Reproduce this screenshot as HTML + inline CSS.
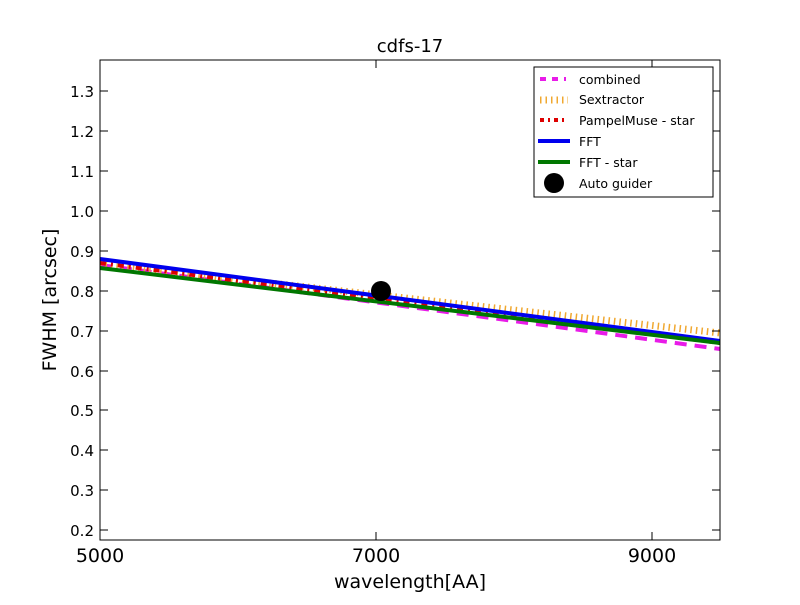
<!DOCTYPE html>
<html><head><style>body{margin:0;background:#fff}svg text{font-family:"DejaVu Sans","Liberation Sans",sans-serif}</style></head><body>
<svg width="800" height="600" xmlns="http://www.w3.org/2000/svg">
<rect width="800" height="600" fill="#fff"/>
<text x="410" y="52" font-size="18" text-anchor="middle">cdfs-17</text>
<g stroke-linecap="butt" fill="none">
<line x1="100" y1="265" x2="720" y2="349" stroke="#e81be8" stroke-width="4" stroke-dasharray="12,8"/>
<line x1="100" y1="264" x2="720" y2="333" stroke="#f0a830" stroke-width="7" stroke-dasharray="1.5,4"/>
<line x1="100" y1="263" x2="720" y2="343" stroke="#dd0000" stroke-width="4" stroke-dasharray="6,5,2,5"/>
<line x1="100" y1="259" x2="720" y2="341" stroke="#0000ee" stroke-width="4"/>
<line x1="100" y1="268" x2="720" y2="343" stroke="#007700" stroke-width="4"/>
</g>
<circle cx="381" cy="291" r="10" fill="#000"/>
<rect x="100" y="60" width="620" height="480" fill="none" stroke="#000" stroke-width="1"/>
<g stroke="#000" stroke-width="1">
<line x1="100" y1="91" x2="108" y2="91"/><line x1="712" y1="91" x2="720" y2="91"/>
<line x1="100" y1="131" x2="108" y2="131"/><line x1="712" y1="131" x2="720" y2="131"/>
<line x1="100" y1="171" x2="108" y2="171"/><line x1="712" y1="171" x2="720" y2="171"/>
<line x1="100" y1="211" x2="108" y2="211"/><line x1="712" y1="211" x2="720" y2="211"/>
<line x1="100" y1="251" x2="108" y2="251"/><line x1="712" y1="251" x2="720" y2="251"/>
<line x1="100" y1="291" x2="108" y2="291"/><line x1="712" y1="291" x2="720" y2="291"/>
<line x1="100" y1="331" x2="108" y2="331"/><line x1="712" y1="331" x2="720" y2="331"/>
<line x1="100" y1="371" x2="108" y2="371"/><line x1="712" y1="371" x2="720" y2="371"/>
<line x1="100" y1="410" x2="108" y2="410"/><line x1="712" y1="410" x2="720" y2="410"/>
<line x1="100" y1="450" x2="108" y2="450"/><line x1="712" y1="450" x2="720" y2="450"/>
<line x1="100" y1="490" x2="108" y2="490"/><line x1="712" y1="490" x2="720" y2="490"/>
<line x1="100" y1="530" x2="108" y2="530"/><line x1="712" y1="530" x2="720" y2="530"/>
<line x1="376" y1="540" x2="376" y2="532"/><line x1="376" y1="60" x2="376" y2="68"/>
<line x1="652" y1="540" x2="652" y2="532"/><line x1="652" y1="60" x2="652" y2="68"/>
</g>
<g font-size="15" text-anchor="end">
<text x="94" y="97">1.3</text><text x="94" y="137">1.2</text><text x="94" y="177">1.1</text><text x="94" y="217">1.0</text><text x="94" y="257">0.9</text><text x="94" y="297">0.8</text><text x="94" y="337">0.7</text><text x="94" y="377">0.6</text><text x="94" y="416">0.5</text><text x="94" y="456">0.4</text><text x="94" y="496">0.3</text><text x="94" y="536">0.2</text>
</g>
<g font-size="19" text-anchor="middle">
<text x="100" y="562">5000</text><text x="376" y="562">7000</text><text x="652" y="562">9000</text>
<text x="410" y="588">wavelength[AA]</text>
<text transform="translate(56,300) rotate(-90)">FWHM [arcsec]</text>
</g>
<rect x="534" y="67" width="179" height="130" fill="#fff" stroke="#000" stroke-width="1"/>
<g fill="none">
<line x1="540" y1="79" x2="566" y2="79" stroke="#e81be8" stroke-width="4" stroke-dasharray="6,6"/>
<line x1="540" y1="100" x2="568" y2="100" stroke="#f0a830" stroke-width="7" stroke-dasharray="1.5,4"/>
<line x1="540" y1="120" x2="568" y2="120" stroke="#dd0000" stroke-width="4" stroke-dasharray="4,4,2,4"/>
<line x1="538" y1="141" x2="570" y2="141" stroke="#0000ee" stroke-width="4"/>
<line x1="538" y1="162" x2="570" y2="162" stroke="#007700" stroke-width="4"/>
</g>
<circle cx="554" cy="183" r="10" fill="#000"/>
<g font-size="12.5">
<text x="579" y="84">combined</text><text x="579" y="104">Sextractor</text><text x="579" y="125">PampelMuse - star</text><text x="579" y="146">FFT</text><text x="579" y="167">FFT - star</text><text x="579" y="188">Auto guider</text>
</g>
</svg>
</body></html>
